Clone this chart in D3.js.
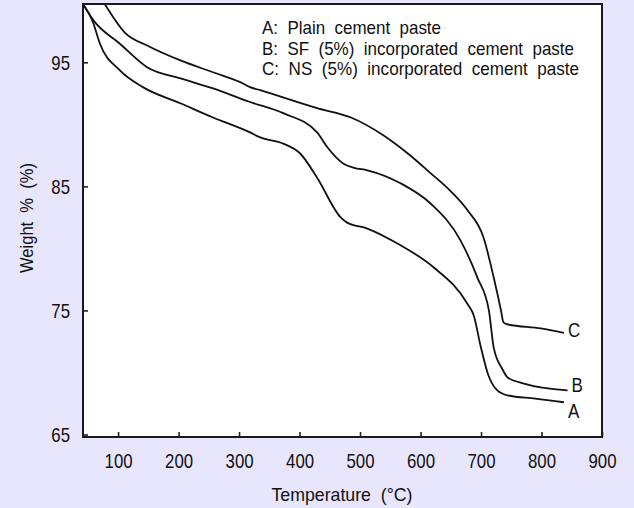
<!DOCTYPE html>
<html>
<head>
<meta charset="utf-8">
<script src="https://cdn.jsdelivr.net/npm/d3@7"></script>
<style>
  body { margin: 0; background: #e8e6fc; }
  svg { display: block; }
  text { font-family: "Liberation Sans", Arial, sans-serif; fill: #111; }
</style>
</head>
<body>
<div id="chart"></div>
<script>
// temperature (°C) / weight (%)
const tempA = [42, 58, 70, 103, 141, 203, 257, 318, 335, 373, 401, 429, 468, 478, 512, 567, 621, 678, 688, 699, 712, 727, 744, 790, 837];
const wtA   = [99.7, 98.3, 96.5, 94.35, 93.0, 91.7, 90.55, 89.35, 88.95, 88.45, 87.65, 85.7, 82.5, 82.1, 81.6, 80.25, 78.5, 75.5, 74.6, 72.2, 69.8, 68.55, 68.15, 67.9, 67.6];

const tempB = [42, 59, 103, 148, 203, 257, 318, 373, 429, 446, 472, 490, 512, 567, 617, 666, 694, 713, 721, 735, 744, 771, 843];
const wtB   = [99.7, 98.4, 96.5, 94.6, 93.7, 92.9, 91.8, 90.9, 89.35, 88.15, 86.85, 86.5, 86.3, 85.25, 83.6, 80.65, 77.65, 75.0, 72.0, 70.3, 69.6, 69.1, 68.55];

const tempC = [78, 112, 148, 203, 257, 302, 318, 335, 429, 485, 539, 579, 617, 650, 678, 704, 721, 733, 737, 742, 799, 837];
const wtC   = [99.7, 97.35, 96.35, 95.15, 94.2, 93.4, 93.0, 92.75, 91.3, 90.55, 89.1, 87.65, 86.05, 84.6, 83.05, 80.9, 77.65, 75.0, 74.05, 73.9, 73.55, 73.2];

const seriesNames = ["A", "B", "C"];
const legendLines = [
  "A:  Plain  cement  paste",
  "B:  SF  (5%)  incorporated  cement  paste",
  "C:  NS  (5%)  incorporated  cement  paste"
];
const xTicks = [100, 200, 300, 400, 500, 600, 700, 800, 900];
const yTicks = [65, 75, 85, 95];

const width = 634, height = 508;
const plotLeft = 83, plotRight = 602, plotTop = 4, plotBottom = 437;

const svg = d3.select("#chart").append("svg")
  .attr("width", width)
  .attr("height", height);

const x = d3.scaleLinear().domain([42, 900]).range([plotLeft, plotRight]);
const y = d3.scaleLinear().domain([64.8, 99.7]).range([plotBottom, plotTop]);

// squeeze text horizontally, the original uses a narrow face
function condense(sel, factor) {
  sel.each(function() {
    const w = this.getComputedTextLength();
    d3.select(this)
      .attr("textLength", w * factor)
      .attr("lengthAdjust", "spacingAndGlyphs");
  });
}

// white plot area
svg.append("rect")
  .attr("x", plotLeft).attr("y", plotTop)
  .attr("width", plotRight - plotLeft).attr("height", plotBottom - plotTop)
  .attr("fill", "#fff");

// legend text
const legendW = [179, 312, 317];
svg.selectAll(".legend")
  .data(legendLines)
  .enter().append("text")
  .attr("class", "legend")
  .attr("x", 262)
  .attr("y", (d, i) => 34 + i * 20.5)
  .style("font-size", "18.5px")
  .style("white-space", "pre")
  .attr("textLength", (d, i) => legendW[i])
  .attr("lengthAdjust", "spacingAndGlyphs")
  .text(d => d);

// curves
const line = d3.line()
  .x(d => x(d[0]))
  .y(d => y(d[1]))
  .curve(d3.curveMonotoneX);

const curves = [
  d3.zip(tempA, wtA),
  d3.zip(tempB, wtB),
  d3.zip(tempC, wtC)
];

svg.append("defs").append("clipPath").attr("id", "clip")
  .append("rect")
  .attr("x", plotLeft).attr("y", plotTop)
  .attr("width", plotRight - plotLeft).attr("height", plotBottom - plotTop);

svg.append("g").attr("clip-path", "url(#clip)")
  .selectAll("path")
  .data(curves)
  .enter().append("path")
  .attr("d", line)
  .attr("fill", "none")
  .attr("stroke", "#111")
  .attr("stroke-width", 1.8);

// end labels
const labelDy = [9, -5, -3];
svg.selectAll(".endlabel")
  .data(curves)
  .enter().append("text")
  .attr("class", "endlabel")
  .attr("x", d => x(d[d.length - 1][0]) + 4)
  .attr("y", (d, i) => y(d[d.length - 1][1]) + labelDy[i] + 7)
  .style("font-size", "20px")
  .text((d, i) => seriesNames[i])
  .call(condense, 0.85);

// axes
const xAxis = d3.axisBottom(x)
  .tickValues(xTicks)
  .tickSizeInner(-5)
  .tickSizeOuter(0)
  .tickPadding(17);

const yAxis = d3.axisLeft(y)
  .tickValues(yTicks)
  .tickSizeInner(-5)
  .tickSizeOuter(0)
  .tickPadding(13);

const gx = svg.append("g")
  .attr("transform", `translate(0,${plotBottom})`)
  .call(xAxis);
const gy = svg.append("g")
  .attr("transform", `translate(${plotLeft},0)`)
  .call(yAxis);

[gx, gy].forEach(g => {
  g.select(".domain").remove();
  g.selectAll(".tick line").attr("stroke", "#222").attr("stroke-width", 1.6);
  g.selectAll(".tick text")
    .style("font-size", "21px")
    .style("font-family", "'Liberation Sans', Arial, sans-serif")
    .attr("fill", "#111")
    .call(condense, 0.8);
});
gx.selectAll(".tick text").attr("dy", "0.71em").attr("y", 16);

// frame
svg.append("rect")
  .attr("x", plotLeft).attr("y", plotTop)
  .attr("width", plotRight - plotLeft).attr("height", plotBottom - plotTop)
  .attr("fill", "none")
  .attr("stroke", "#1a1a1a")
  .attr("stroke-width", 2);

// axis titles
svg.append("text")
  .attr("x", 342).attr("y", 501)
  .attr("text-anchor", "middle")
  .style("font-size", "18.5px")
  .style("white-space", "pre")
  .attr("textLength", 141)
  .attr("lengthAdjust", "spacingAndGlyphs")
  .text("Temperature  (°C)");

svg.append("text")
  .attr("transform", "translate(33,218) rotate(-90)")
  .attr("text-anchor", "middle")
  .style("font-size", "18.5px")
  .style("white-space", "pre")
  .attr("textLength", 110)
  .attr("lengthAdjust", "spacingAndGlyphs")
  .text("Weight  %  (%)");
</script>
</body>
</html>
